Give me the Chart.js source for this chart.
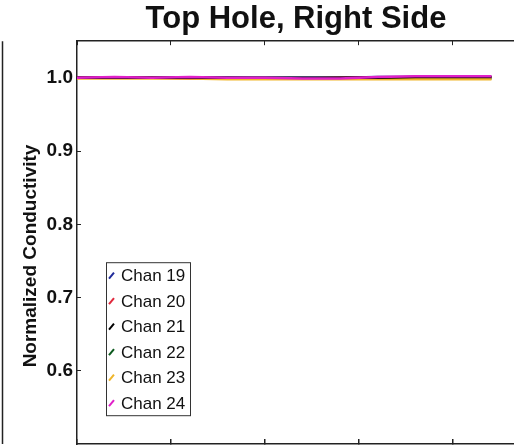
<!DOCTYPE html>
<html>
<head>
<meta charset="utf-8">
<script src="https://cdn.jsdelivr.net/npm/chart.js@4/dist/chart.umd.min.js"></script>
<style>
  html, body { margin: 0; padding: 0; background: #fff; overflow: hidden; }
  #wrap { width: 514px; height: 446px; overflow: hidden; }
  canvas { display: block; }
</style>
</head>
<body>
<div id="wrap"><canvas id="chart" width="592" height="446"></canvas></div>
<script>
// sample positions along the run
const xValues = [0, 0.4, 0.8, 1.2, 1.6, 2.0, 2.4, 2.8, 3.2, 3.6, 4.0, 4.41];

const chanNames = ["Chan 19", "Chan 20", "Chan 21", "Chan 22", "Chan 23", "Chan 24"];
const chanColors = ["#1f2a9a", "#e0283c", "#000000", "#0d5a1e", "#efb52a", "#e020c8"];

const chan19 = [1.000, 1.000, 1.000, 1.000, 1.000, 1.000, 1.000, 1.000, 1.001, 1.001, 1.001, 1.001];
const chan20 = [1.000, 1.000, 1.000, 0.999, 0.999, 0.999, 0.999, 1.000, 1.000, 1.000, 1.000, 1.001];
const chan21 = [1.000, 1.000, 1.000, 1.000, 1.000, 1.000, 1.000, 1.000, 1.000, 1.001, 1.001, 1.001];
const chan22 = [1.000, 1.000, 1.000, 1.000, 1.000, 0.999, 0.999, 0.999, 0.999, 0.999, 0.999, 0.999];
const chan23 = [0.999, 0.999, 0.999, 0.999, 0.998, 0.998, 0.998, 0.998, 0.998, 0.998, 0.998, 0.998];
const chan24 = [1.000, 1.001, 1.000, 1.001, 1.000, 1.000, 0.999, 0.999, 1.001, 1.002, 1.002, 1.002];

const chanValues = [chan19, chan20, chan21, chan22, chan23, chan24];
// lower order = drawn on top
const drawOrder = [4, 3, 1, 5, 2, 0];

const yTicks = [0.6, 0.7, 0.8, 0.9, 1.0];
const yTitle = "Normalized Conductivity";

const FONT = "'Liberation Sans', Arial, sans-serif";

const datasets = chanNames.map((name, i) => ({
  label: name,
  data: xValues.map((x, j) => ({ x: x, y: chanValues[i][j] })),
  borderColor: chanColors[i],
  backgroundColor: chanColors[i],
  borderWidth: 2.5,
  pointRadius: 0,
  tension: 0,
  order: drawOrder[i]
}));

function noPad(s) {
  s.paddingTop = 0;
  s.paddingBottom = 0;
  s.paddingLeft = 0;
  s.paddingRight = 0;
}

// legend box inside the plot, y title, and the edge of the neighbouring panel
const extras = {
  id: "extras",
  afterDraw(chart) {
    const ctx = chart.ctx;
    const area = chart.chartArea;
    ctx.save();

    // neighbouring panel's right border
    ctx.strokeStyle = "#222";
    ctx.lineWidth = 1.5;
    ctx.beginPath();
    ctx.moveTo(2.5, area.top);
    ctx.lineTo(2.5, area.bottom);
    ctx.stroke();

    // y axis title (sits a bit below the axis middle in the original)
    ctx.save();
    ctx.translate(31, 256);
    ctx.rotate(-Math.PI / 2);
    ctx.font = "bold 19px " + FONT;
    ctx.fillStyle = "#111";
    ctx.textAlign = "center";
    ctx.textBaseline = "middle";
    ctx.fillText(yTitle, 0, 0);
    ctx.restore();

    // legend
    const bx = area.left + 29, by = area.top + 221, bw = 84, bh = 153;
    ctx.fillStyle = "#fff";
    ctx.fillRect(bx, by, bw, bh);
    ctx.strokeStyle = "#333";
    ctx.lineWidth = 1;
    ctx.strokeRect(bx + 0.5, by + 0.5, bw, bh);

    ctx.font = "17px " + FONT;
    ctx.textBaseline = "middle";
    ctx.textAlign = "left";
    chart.data.datasets.forEach((ds, i) => {
      const cy = by + 13.5 + i * 25.5;
      ctx.strokeStyle = ds.borderColor;
      ctx.lineWidth = 2;
      ctx.beginPath();
      ctx.moveTo(bx + 3, cy + 3);
      ctx.lineTo(bx + 8, cy - 3);
      ctx.stroke();
      ctx.fillStyle = "#111";
      ctx.fillText(ds.label, bx + 15, cy + 1);
    });
    ctx.restore();
  }
};

new Chart(document.getElementById("chart"), {
  type: "line",
  data: { datasets: datasets },
  options: {
    responsive: false,
    animation: false,
    layout: { padding: 0 },
    plugins: {
      legend: { display: false },
      tooltip: { enabled: false },
      title: {
        display: true,
        text: "Top Hole, Right Side",
        color: "#111",
        font: { family: FONT, size: 31, weight: "bold" },
        padding: { top: 1, bottom: 3 }
      }
    },
    scales: {
      x: {
        type: "linear",
        position: "bottom",
        min: 0,
        max: 5.48,
        ticks: { display: false, stepSize: 1 },
        grid: { drawOnChartArea: false, drawTicks: true, tickLength: -5, color: "#222", lineWidth: 1.5 },
        border: { color: "#222", width: 1.5 },
        afterFit: s => { s.height = 2; noPad(s); }
      },
      x2: {
        type: "linear",
        position: "top",
        min: 0,
        max: 5.48,
        ticks: { display: false, stepSize: 1 },
        grid: { drawOnChartArea: false, drawTicks: true, tickLength: -4, color: "#222", lineWidth: 1 },
        border: { color: "#222", width: 1.5 },
        afterFit: s => { s.height = 0; noPad(s); }
      },
      y: {
        min: 0.5,
        max: 1.05,
        afterBuildTicks: s => { s.ticks = yTicks.map(v => ({ value: v })); },
        ticks: {
          color: "#111",
          padding: 8,
          font: { family: FONT, size: 19, weight: "bold" },
          callback: v => Number(v).toFixed(1)
        },
        grid: { drawOnChartArea: false, drawTicks: true, tickLength: -4, color: "#222", lineWidth: 1 },
        border: { color: "#222", width: 1.5 },
        afterFit: s => { s.width = 77; noPad(s); }
      }
    }
  },
  plugins: [extras]
});
</script>
</body>
</html>
